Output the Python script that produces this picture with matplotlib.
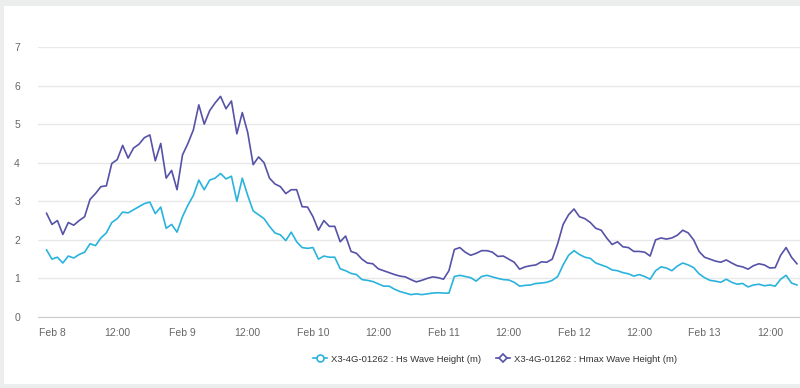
import matplotlib
matplotlib.use("Agg")
import matplotlib.pyplot as plt
from matplotlib.patches import Rectangle
from matplotlib.lines import Line2D

# hours from Feb 8 00:00, one reading per hour
hours = list(range(-1, 138))

hs = [1.74, 1.50, 1.55, 1.40, 1.58, 1.53, 1.62, 1.68, 1.90, 1.85,
      2.05, 2.18, 2.45, 2.55, 2.72, 2.70, 2.78, 2.86, 2.94, 2.98,
      2.68, 2.85, 2.30, 2.40, 2.20, 2.60, 2.90, 3.15, 3.55, 3.30,
      3.55, 3.60, 3.72, 3.58, 3.65, 3.00, 3.60, 3.15, 2.75, 2.65,
      2.55, 2.35, 2.18, 2.13, 1.98, 2.20, 1.95, 1.80, 1.78, 1.80,
      1.50, 1.58, 1.55, 1.55, 1.25, 1.20, 1.13, 1.10, 0.97, 0.95,
      0.92, 0.86, 0.80, 0.80, 0.72, 0.66, 0.62, 0.58, 0.60, 0.58,
      0.60, 0.62, 0.63, 0.62, 0.62, 1.05, 1.08, 1.05, 1.02, 0.93,
      1.05, 1.08, 1.04, 1.00, 0.97, 0.96, 0.90, 0.80, 0.82, 0.83,
      0.87, 0.88, 0.90, 0.95, 1.05, 1.35, 1.60, 1.72, 1.62, 1.55,
      1.52, 1.40, 1.35, 1.30, 1.22, 1.20, 1.15, 1.12, 1.06, 1.10,
      1.05, 0.98, 1.20, 1.30, 1.27, 1.20, 1.32, 1.40, 1.35, 1.28,
      1.12, 1.02, 0.95, 0.93, 0.90, 0.98, 0.90, 0.85, 0.87, 0.78,
      0.83, 0.85, 0.81, 0.83, 0.80, 0.98, 1.08, 0.88, 0.83]

hmax = [2.69, 2.40, 2.50, 2.14, 2.45, 2.38, 2.50, 2.60, 3.05, 3.20,
        3.38, 3.40, 3.98, 4.08, 4.45, 4.12, 4.38, 4.48, 4.65, 4.72,
        4.05, 4.50, 3.60, 3.80, 3.30, 4.20, 4.50, 4.85, 5.50, 5.00,
        5.35, 5.55, 5.72, 5.40, 5.60, 4.75, 5.30, 4.78, 3.95, 4.15,
        4.00, 3.60, 3.45, 3.38, 3.20, 3.30, 3.30, 2.86, 2.85, 2.60,
        2.25, 2.50, 2.35, 2.35, 1.95, 2.10, 1.70, 1.65, 1.50, 1.40,
        1.38, 1.25, 1.20, 1.15, 1.10, 1.06, 1.04, 0.97, 0.91, 0.95,
        1.00, 1.04, 1.02, 0.98, 1.20, 1.75, 1.80, 1.68, 1.60, 1.65,
        1.72, 1.72, 1.68, 1.57, 1.58, 1.50, 1.42, 1.24, 1.30, 1.33,
        1.35, 1.43, 1.42, 1.50, 1.90, 2.40, 2.65, 2.80, 2.60, 2.55,
        2.45, 2.30, 2.25, 2.05, 1.88, 1.95, 1.82, 1.80, 1.70, 1.70,
        1.68, 1.58, 2.00, 2.05, 2.02, 2.05, 2.12, 2.25, 2.18, 2.00,
        1.70, 1.55, 1.50, 1.45, 1.42, 1.48, 1.40, 1.33, 1.30, 1.24,
        1.33, 1.38, 1.35, 1.27, 1.28, 1.60, 1.80, 1.55, 1.38]

tick_hours = [0, 12, 24, 36, 48, 60, 72, 84, 96, 108, 120, 132]
tick_labels = ["Feb 8", "12:00", "Feb 9", "12:00", "Feb 10", "12:00",
               "Feb 11", "12:00", "Feb 12", "12:00", "Feb 13", "12:00"]

hs_name = "X3-4G-01262 : Hs Wave Height (m)"
hmax_name = "X3-4G-01262 : Hmax Wave Height (m)"
hs_color = "#2ab3dd"
hmax_color = "#5552a8"

plt.rcParams["font.family"] = ["Liberation Sans", "DejaVu Sans"]

fig = plt.figure(figsize=(8, 3.88), dpi=100, facecolor="#eceeee")
# white card behind the chart
card = Rectangle((4 / 800, 4 / 388), 1, 378 / 388, transform=fig.transFigure,
                 facecolor="white", edgecolor="none", zorder=-10)
fig.add_artist(card)

ax = fig.add_axes([38 / 800, 71 / 388, 762 / 800, 270 / 388])
ax.set_zorder(1)
ax.set_facecolor("none")

ax.plot(hours, hs, color=hs_color, lw=1.2)
ax.plot(hours, hmax, color=hmax_color, lw=1.2)

ax.set_xlim(-2.57, 137.56)
ax.set_ylim(0, 7)
ax.set_yticks(range(0, 8))
ax.set_xticks(tick_hours)
ax.set_xticklabels(tick_labels)

ax.grid(axis="y", color="#e8e8e8", lw=1)
ax.set_axisbelow(True)
for s in ["top", "right", "left"]:
    ax.spines[s].set_visible(False)
ax.spines["bottom"].set_color("#cccccc")
ax.tick_params(axis="both", length=0, labelsize=7.5, labelcolor="#666666")
ax.tick_params(axis="y", pad=13)
ax.tick_params(axis="x", pad=8)

handles = [Line2D([], [], color=hs_color, lw=1.2, marker="o", markersize=5,
                  markerfacecolor="white", markeredgewidth=1.2),
           Line2D([], [], color=hmax_color, lw=1.2, marker="D", markersize=4.5,
                  markerfacecolor="white", markeredgewidth=1.2)]
fig.legend(handles, [hs_name, hmax_name], loc="center", bbox_to_anchor=(495 / 800, 1 - 359 / 388),
           ncol=2, frameon=False, fontsize=6.8, labelcolor="#333333",
           handlelength=1.5, handletextpad=0.4, columnspacing=1.6)

fig.savefig("out.png", dpi=100, facecolor=fig.get_facecolor())
